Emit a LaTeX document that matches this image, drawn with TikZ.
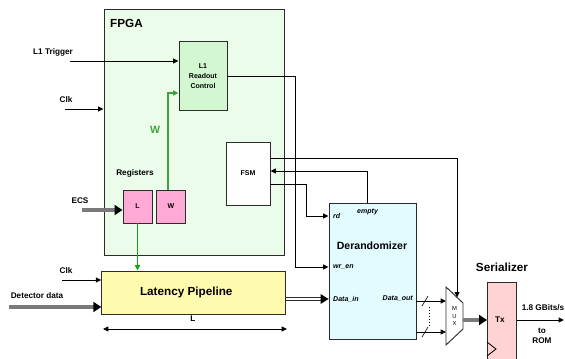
\documentclass[tikz,border=0pt]{standalone}
\usepackage{fontspec}
\setmainfont{Liberation Sans}
\usetikzlibrary{arrows.meta,positioning,calc,decorations.markings}
\definecolor{dkline}{HTML}{2B2B2B}
\definecolor{fpgabg}{HTML}{EBFCEA}
\definecolor{ctrlbg}{HTML}{D3F7D0}
\definecolor{regbg}{HTML}{FFAAD6}
\definecolor{pipebg}{HTML}{FFFBAE}
\definecolor{derbg}{HTML}{E2FBFF}
\definecolor{txbg}{HTML}{FFD3D3}
\definecolor{wgreen}{HTML}{3DA33D}
\definecolor{lgreen}{HTML}{14A514}
\definecolor{busgray}{HTML}{7A7A7A}
\tikzset{
  blk/.style={rectangle,draw=dkline,line width=0.8pt,inner sep=0pt,align=center,text=black},
  regbox/.style={blk,fill=regbg,minimum width=0.87cm,minimum height=0.99cm,
                 font=\fontsize{6}{7}\selectfont\bfseries},
  lbl/.style={inner sep=0pt,font=\scriptsize\bfseries,text=black},
  pin/.style={inner sep=0pt,font=\fontsize{6}{7}\selectfont\bfseries\itshape,anchor=west},
  sig/.style={-{Triangle[length=1.6mm,width=1.5mm]},line width=0.8pt,draw=black},
  bus/.style={-{Triangle[length=2.4mm,width=3mm,color=black]},line width=2.6pt,draw=busgray},
  bustip/.style={decoration={markings,
                 mark=at position 1 with {\fill[black] (0,0) -- (-2.4mm,1.5mm) -- (-2.4mm,-1.5mm) -- cycle;}}},
  dbus/.style={draw=dkline,line width=3.4pt,shorten >=2.3mm,
               postaction={draw=white,line width=1.6pt,shorten >=2.3mm},
               postaction={bustip,decorate}},
  gsig/.style={-{Triangle[length=1.6mm,width=1.5mm]},line width=1pt},
}

\begin{document}
\begin{tikzpicture}[x=0.03cm,y=-0.03cm]
  \useasboundingbox (0,0) rectangle (565,358);
  % FPGA
  \node[blk,fill=fpgabg,minimum width=5.4cm,minimum height=7.38cm] (fpga) at (194,132) {};
  \node[lbl,font=\normalsize\bfseries,anchor=west] (fpgalbl) at (110,23) {FPGA};
  \node[blk,fill=ctrlbg,minimum width=1.44cm,minimum height=2.07cm,
        font=\fontsize{6}{8.7}\selectfont\bfseries] (rdctrl) at (203,76) {L1\\Readout\\Control};
  \node[blk,fill=white,minimum width=1.32cm,minimum height=1.89cm,
        font=\fontsize{6}{7}\selectfont\bfseries] (fsm) at (248,173.5) {FSM};
  \node[regbox] (regl) at (137.5,206.5) {L};
  \node[regbox] (regw) at (171,206.5) {W};
  \node[lbl] (reglbl) at (135,173) {Registers};
  \node[lbl,font=\small\bfseries,text=wgreen] (wlbl) at (155,130) {W};

  % inputs
  \node[lbl] (trglbl) at (53,52) {L1 Trigger};
  \node[lbl] (clklbl) at (66,100) {Clk};
  \node[lbl] (ecslbl) at (80,201) {ECS};
  \coordinate (trgin) at (70,61);
  \coordinate (clkin) at (65,109);
  \coordinate (ecsin) at (82,210);
  \draw[sig] (trgin) -- (trgin -| rdctrl.west);
  \draw[sig] (clkin) -- (clkin -| fpga.west);
  \draw[bus] (ecsin) -- (ecsin -| regl.west);
  \draw[gsig,draw=wgreen] ([xshift=-0.09cm]regw.north) |- ([yshift=-0.51cm]rdctrl.west);

  % pipeline
  \node[blk,fill=pipebg,minimum width=5.52cm,minimum height=1.29cm,
        font=\normalsize\bfseries] (pipe) at (193.75,292.5) {Latency Pipeline\hspace*{0.45cm}};
  \draw[gsig,draw=lgreen] (regl.south) -- (regl.south |- pipe.north);
  \node[lbl] (clk2lbl) at (66,271) {Clk};
  \node[lbl] (detlbl) at (37,296) {Detector data};
  \coordinate (clk2in) at (62,280);
  \coordinate (detin) at (9,307);
  \draw[sig] (clk2in) -- (clk2in -| pipe.west);
  \draw[bus] (detin) -- (detin -| pipe.west);
  \coordinate (dimL) at (103,329);
  \coordinate (dimR) at (287,329);
  \draw[sig,{Triangle[length=1.6mm,width=1.5mm]}-{Triangle[length=1.6mm,width=1.5mm]}] (dimL) -- (dimR);
  \node[lbl] (dimlbl) at (193,319) {L};

  % derandomizer
  \node[blk,fill=derbg,minimum width=2.61cm,minimum height=4.08cm] (derand) at (372.5,271) {};
  \node[lbl,font=\small\bfseries] (derlbl) at (372,246) {Derandomizer};
  \node[pin] (rdpin) at (333,216) {rd};
  \node[pin] (emptypin) at (357,212) {empty};
  \node[pin] (wrenpin) at (333,267) {wr\_en};
  \node[pin] (dinpin) at (333,299) {Data\_in};
  \node[pin,anchor=east] (doutpin) at (413,299) {Data\_out};
  \draw[sig] (rdctrl.east) -| ($(derand.west |- wrenpin)+(-33,0)$) -- (derand.west |- wrenpin);
  \draw[sig] ([yshift=-0.315cm]fsm.east) -| ($(derand.west |- rdpin)+(-22,0)$) -- (derand.west |- rdpin);
  \draw[sig] (derand.north -| emptypin) |- ([yshift=0.075cm]fsm.east);
  \draw[dbus] (pipe.east |- dinpin) -- (derand.west |- dinpin);

  % mux
  \coordinate (muxtl) at (446,287);
  \coordinate (muxbl) at (446,345);
  \coordinate (muxtr) at (463,303);
  \coordinate (muxbr) at (463,329);
  \draw[fill=white,line width=0.8pt,draw=dkline] (muxtl) -- (muxtr) -- (muxbr) -- (muxbl) -- cycle;
  \node[inner sep=0pt,font=\fontsize{5}{6}\selectfont,align=center] (mux) at (454.5,316) {M\\U\\X};
  \draw[sig] ([yshift=0.465cm]fsm.east) -| ($(muxtl)!0.65!(muxtr)$);
  \coordinate (muxin1) at (446,301);
  \coordinate (muxin2) at (446,332);
  \draw[sig] (muxin1 -| derand.east) -- (muxin1);
  \draw[sig] (muxin2 -| derand.east) -- (muxin2);
  \draw[line width=0.5pt] ($(muxin1)+(-24,5)$) -- ++(6,-10);
  \draw[line width=0.5pt] ($(muxin2)+(-24,5)$) -- ++(6,-10);
  \draw[dotted,line width=0.6pt] (429,307) -- (429,326);

  % serializer
  \node[lbl,font=\normalsize\bfseries] (serlbl) at (502,267) {Serializer};
  \node[blk,fill=txbg,minimum width=0.87cm,minimum height=2.55cm,anchor=north west] (tx) at (487,282) {};
  \node[lbl] (txlbl) at (500,320) {Tx};
  \draw[line width=0.7pt] (487,342) -- (496,349) -- (487,356);
  \coordinate (muxout) at (463,320);
  \draw[bus] (muxout) -- (muxout -| tx.west);
  \coordinate (romout) at (564,320);
  \draw[sig] (romout -| tx.east) -- (romout);
  \node[lbl] (ratelbl) at (543,308) {1.8 GBits/s};
  \node[lbl,font=\fontsize{7}{8}\selectfont\bfseries,align=center] (romlbl) at (542,336) {to\\ROM};
\end{tikzpicture}
\end{document}
